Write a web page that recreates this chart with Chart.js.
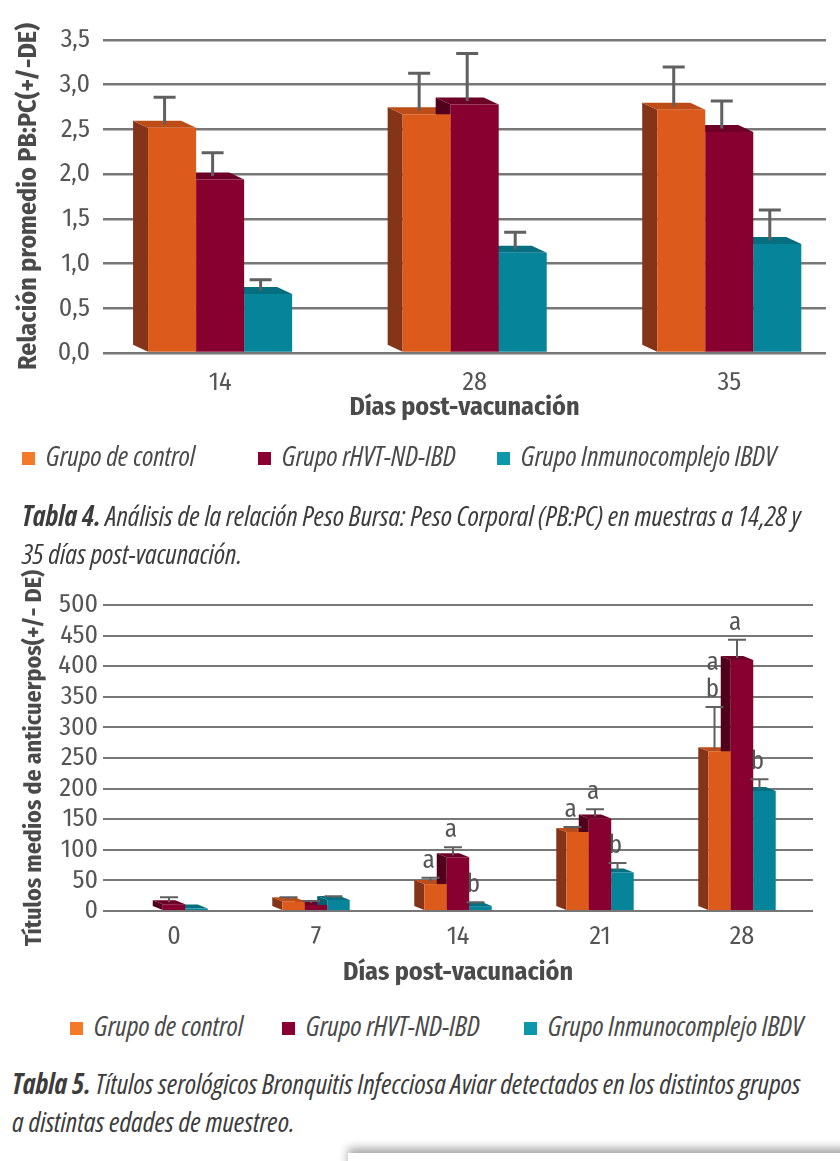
<!DOCTYPE html>
<html>
<head>
<meta charset="utf-8">
<script src="https://cdn.jsdelivr.net/npm/chart.js@4.4.0/dist/chart.umd.min.js"></script>
<style>
  body { margin: 0; background: #fff; width: 840px; height: 1161px; overflow: hidden; position: relative;
         font-family: "Open Sans", sans-serif; font-stretch: condensed; }
  canvas { position: absolute; left: 0; z-index: 1; }
  #c1 { top: 0; }
  #c2 { top: 540px; }
  .legend { position: absolute; left: 0; width: 840px; height: 30px; font-style: italic; font-size: 28px;
            color: #4a4a4a; white-space: nowrap; z-index: 2; }
  .legend .item { position: absolute; top: 0; line-height: 30px; }
  .legend .sw { display: inline-block; width: 13px; height: 13px; margin-right: 11px; vertical-align: 1px; }
  .cap { position: absolute; font-style: italic; font-size: 28px; color: #3c3c3c; white-space: nowrap;
         line-height: 38px; z-index: 2; }
  .cap b { font-weight: bold; }
  .sheet { position: absolute; left: 348px; top: 1153px; width: 520px; height: 30px; background: #fff;
           box-shadow: 0 -5px 10px rgba(0,0,0,0.35); z-index: 3; }
</style>
</head>
<body>
<canvas id="c1" width="840" height="440"></canvas>
<div class="legend" style="top:440px">
  <span class="item" style="left:22px"><span class="sw" style="background:#f47a2a"></span>Grupo de control</span>
  <span class="item" style="left:258px"><span class="sw" style="background:#8b0033"></span>Grupo rHVT-ND-IBD</span>
  <span class="item" style="left:497px"><span class="sw" style="background:#0d97aa"></span>Grupo Inmunocomplejo IBDV</span>
</div>
<div class="cap" style="left:22px; top:496px"><b>Tabla 4.</b> Análisis de la relación Peso Bursa: Peso Corporal (PB:PC) en muestras a 14,28 y<br>35 días post-vacunación.</div>

<canvas id="c2" width="840" height="455"></canvas>
<div class="legend" style="top:1010px">
  <span class="item" style="left:70px"><span class="sw" style="background:#f47a2a"></span>Grupo de control</span>
  <span class="item" style="left:282px"><span class="sw" style="background:#8b0033"></span>Grupo rHVT-ND-IBD</span>
  <span class="item" style="left:524px"><span class="sw" style="background:#0d97aa"></span>Grupo Inmunocomplejo IBDV</span>
</div>
<div class="cap" style="left:12px; top:1064px"><b>Tabla 5.</b> Títulos serológicos Bronquitis Infecciosa Aviar detectados en los distintos grupos<br>a distintas edades de muestreo.</div>
<div class="sheet"></div>

<script>
// Tabla 4 — relación PB:PC
const days1 = ["14", "28", "35"];
const control1 = [2.52, 2.67, 2.72];
const rhvt1 = [1.94, 2.78, 2.47];
const ibdv1 = [0.66, 1.12, 1.22];
const controlErr1 = [0.30, 0.42, 0.44];
const rhvtErr1 = [0.26, 0.53, 0.31];
const ibdvErr1 = [0.12, 0.19, 0.34];

// Tabla 5 — títulos de anticuerpos
const days2 = ["0", "7", "14", "21", "28"];
const control2 = [0, 16, 44, 129, 261];
const rhvt2 = [11, 10, 88, 151, 410];
const ibdv2 = [4, 18, 8, 63, 196];
const controlErr2 = [0, 3, 7, 5, 69];
const rhvtErr2 = [8, 3, 13, 12, 30];
const ibdvErr2 = [0, 3, 3, 12, 16];
const controlLetters2 = ["", "", "a", "a", "ab"];
const rhvtLetters2 = ["", "", "a", "a", "a"];
const ibdvLetters2 = ["", "", "b", "b", "b"];

const FONT = '"Fira Sans Condensed", "Open Sans", sans-serif';
Chart.defaults.font.family = FONT;

const groups = [
    { label: "Grupo de control",          front: "#dc5b1c", side: "#843418", top: "#bd4c16" },
    { label: "Grupo rHVT-ND-IBD",         front: "#87002f", side: "#50001a", top: "#6c0026" },
    { label: "Grupo Inmunocomplejo IBDV", front: "#06859a", side: "#05606e", top: "#056f80" }
];

function valueOf(d) {
    return typeof d === "object" ? d.y : d;
}

// fake 3D: side and top faces behind the bars, error bars and letters on top
const bar3d = {
    id: "bar3d",
    beforeDatasetsDraw(chart, args, o) {
        const ctx = chart.ctx;
        ctx.save();
        chart.data.datasets.forEach(function (ds, i) {
            chart.getDatasetMeta(i).data.forEach(function (el, j) {
                if (!valueOf(ds.data[j])) return;
                const p = el.getProps(["x", "y", "base", "width"], true);
                const l = p.x - p.width / 2, r = p.x + p.width / 2;
                ctx.fillStyle = ds.sideColor;
                ctx.beginPath();
                ctx.moveTo(l, p.y);
                ctx.lineTo(l - o.dx, p.y - o.dy);
                ctx.lineTo(l - o.dx, p.base - o.dy);
                ctx.lineTo(l, p.base);
                ctx.closePath();
                ctx.fill();
                ctx.fillStyle = ds.topColor;
                ctx.beginPath();
                ctx.moveTo(l, p.y);
                ctx.lineTo(l - o.dx, p.y - o.dy);
                ctx.lineTo(r - o.dx, p.y - o.dy);
                ctx.lineTo(r, p.y);
                ctx.closePath();
                ctx.fill();
            });
        });
        ctx.restore();
    },
    afterDatasetsDraw(chart, args, o) {
        const ctx = chart.ctx, ys = chart.scales.y;
        ctx.save();
        ctx.strokeStyle = o.errColor;
        ctx.lineWidth = o.errWidth;
        ctx.fillStyle = o.textColor;
        ctx.font = o.font;
        ctx.textAlign = "center";
        ctx.textBaseline = "alphabetic";
        chart.data.datasets.forEach(function (ds, i) {
            chart.getDatasetMeta(i).data.forEach(function (el, j) {
                const v = valueOf(ds.data[j]);
                const e = ds.errors[j];
                const p = el.getProps(["x", "y"], true);
                const x = p.x - o.dx / 2;
                const y0 = p.y - o.dy / 2;
                const y1 = ys.getPixelForValue(v + e) - o.dy / 2;
                if (e > 0) {
                    ctx.beginPath();
                    ctx.moveTo(x, y0);
                    ctx.lineTo(x, y1);
                    ctx.moveTo(x - o.cap / 2, y1);
                    ctx.lineTo(x + o.cap / 2, y1);
                    ctx.stroke();
                }
                const txt = ds.letters ? ds.letters[j] : "";
                if (txt) {
                    const chars = txt.split("");
                    let base = y1 - o.letterGap;
                    for (let k = chars.length - 1; k >= 0; k--) {
                        ctx.fillText(chars[k], x - 2, base);
                        base -= o.letterStep;
                    }
                }
            });
        });
        ctx.restore();
    }
};

function makeDatasets(series, errs, letters, asPoints) {
    return series.map(function (s, i) {
        return {
            label: groups[i].label,
            data: asPoints ? s.map(function (v, k) { return { x: k, y: v }; }) : s,
            backgroundColor: groups[i].front,
            sideColor: groups[i].side,
            topColor: groups[i].top,
            errors: errs[i],
            letters: letters ? letters[i] : null,
            borderWidth: 0
        };
    });
}

const tickColor = "#555";
const titleColor = "#4a4a4a";

new Chart(document.getElementById("c1"), {
    type: "bar",
    data: { datasets: makeDatasets([control1, rhvt1, ibdv1], [controlErr1, rhvtErr1, ibdvErr1], null, true) },
    options: {
        responsive: false,
        animation: false,
        layout: { padding: { left: 13, right: 14, top: 40, bottom: 17 } },
        datasets: { bar: { categoryPercentage: 0.566, barPercentage: 1 } },
        plugins: {
            legend: { display: false },
            tooltip: { enabled: false },
            bar3d: { dx: 15, dy: 7, cap: 22, errWidth: 3, errColor: "#606060", textColor: "#555",
                     font: "24px " + FONT, letterGap: 9, letterStep: 27 }
        },
        scales: {
            x: {
                type: "linear", min: -0.46, max: 2.38, offset: false,
                grid: { display: false }, border: { display: false },
                ticks: {
                    stepSize: 1, includeBounds: false, autoSkip: false, maxRotation: 0, padding: 6,
                    color: tickColor, font: { size: 26 },
                    callback: function (v) { return Number.isInteger(v) ? days1[v] : ""; }
                },
                title: { display: true, text: "Días post-vacunación", color: titleColor,
                         font: { size: 26, weight: "bold" }, padding: { top: 0, bottom: 0 } },
                afterFit: function (s) { s.height = 70; }
            },
            y: {
                min: 0, max: 3.5,
                grid: { color: "#777", lineWidth: 2.5, drawTicks: false }, border: { display: false },
                ticks: { stepSize: 0.5, padding: 13, color: tickColor, font: { size: 26 },
                         callback: function (v) { return v.toFixed(1).replace(".", ","); } },
                title: { display: true, text: "Relación promedio PB:PC(+/-DE)", color: titleColor,
                         font: { size: 26, weight: "bold" }, padding: { top: 0, bottom: 0 } },
                afterFit: function (s) { s.width = 90; }
            }
        }
    },
    plugins: [bar3d]
});

new Chart(document.getElementById("c2"), {
    type: "bar",
    data: {
        labels: days2,
        datasets: makeDatasets([control2, rhvt2, ibdv2], [controlErr2, rhvtErr2, ibdvErr2],
                               [controlLetters2, rhvtLetters2, ibdvLetters2], false)
    },
    options: {
        responsive: false,
        animation: false,
        layout: { padding: { left: 20, right: 27, top: 65, bottom: 7 } },
        datasets: { bar: { categoryPercentage: 0.475, barPercentage: 1 } },
        plugins: {
            legend: { display: false },
            tooltip: { enabled: false },
            bar3d: { dx: 10, dy: 4, cap: 18, errWidth: 2, errColor: "#606060", textColor: "#555",
                     font: "25px " + FONT, letterGap: 10, letterStep: 27 }
        },
        scales: {
            x: {
                grid: { display: false }, border: { display: false },
                ticks: { padding: 2, color: tickColor, font: { size: 26 }, maxRotation: 0 },
                title: { display: true, text: "Días post-vacunación", color: titleColor,
                         font: { size: 26, weight: "bold" }, padding: { top: 0, bottom: 0 } },
                afterFit: function (s) { s.height = 77; }
            },
            y: {
                min: 0, max: 500,
                grid: { color: "#777", lineWidth: 2, drawTicks: false }, border: { display: false },
                ticks: { stepSize: 50, padding: 5, autoSkip: false, color: tickColor, font: { size: 26 } },
                title: { display: true, text: "Títulos medios de anticuerpos(+/- DE)", color: titleColor,
                         font: { size: 24, weight: "bold" }, padding: { top: 0, bottom: 0 } },
                afterFit: function (s) { s.width = 83; }
            }
        }
    },
    plugins: [bar3d]
});
</script>
</body>
</html>
